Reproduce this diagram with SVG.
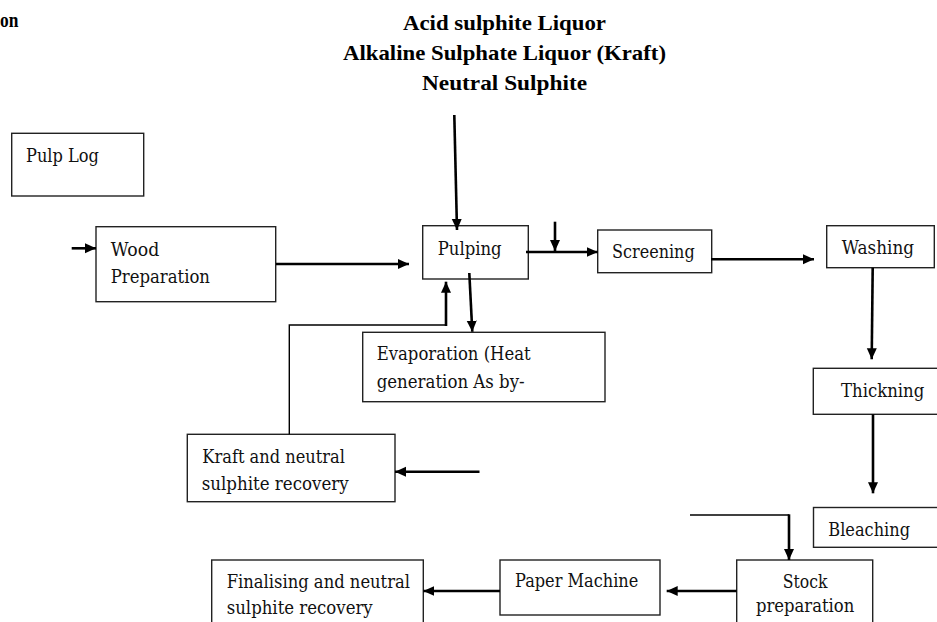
<svg xmlns="http://www.w3.org/2000/svg" width="937" height="622" viewBox="0 0 937 622">
<defs>
<marker id="ah" markerUnits="userSpaceOnUse" markerWidth="12" markerHeight="11" refX="11" refY="5" orient="auto">
<path d="M0,0 L11,5 L0,10 z" fill="#000"/>
</marker>
<style>
.box{fill:#fff;stroke:#222;stroke-width:1.4}
.t{font-family:"DejaVu Serif","Liberation Serif",serif;font-size:19px;fill:#111}
.h{font-family:"Liberation Serif","Times New Roman",serif;font-size:22px;font-weight:bold;fill:#000}
.a{fill:none;stroke:#000;stroke-width:2.6;marker-end:url(#ah)}
.l{fill:none;stroke:#000;stroke-width:1.4}
</style>
</defs>
<rect width="937" height="622" fill="#fff"/>
<g id="header">
<text class="h" x="0" y="27" textLength="18.4" lengthAdjust="spacingAndGlyphs">on</text>
<text class="h" x="403" y="30" textLength="203" lengthAdjust="spacingAndGlyphs">Acid sulphite Liquor</text>
<text class="h" x="343" y="60" textLength="323" lengthAdjust="spacingAndGlyphs">Alkaline Sulphate Liquor (Kraft)</text>
<text class="h" x="422" y="90" textLength="165" lengthAdjust="spacingAndGlyphs">Neutral Sulphite</text>
</g>
<g id="pulp-log">
<rect class="box" x="11.7" y="133.3" width="132" height="62.7"/>
<text class="t" x="26" y="161.7" textLength="73" lengthAdjust="spacingAndGlyphs">Pulp Log</text>
</g>
<g id="wood-preparation">
<rect class="box" x="96" y="226.7" width="179.7" height="75"/>
<text class="t" x="110.7" y="255.7" textLength="48.6" lengthAdjust="spacingAndGlyphs">Wood</text>
<text class="t" x="110.7" y="282.7" textLength="99.3" lengthAdjust="spacingAndGlyphs">Preparation</text>
</g>
<g id="pulping">
<rect class="box" x="422.7" y="225.7" width="105.6" height="53.3"/>
<text class="t" x="437.7" y="255" textLength="64" lengthAdjust="spacingAndGlyphs">Pulping</text>
</g>
<g id="screening">
<rect class="box" x="597.7" y="230" width="114" height="42.7"/>
<text class="t" x="612" y="257.7" textLength="82.7" lengthAdjust="spacingAndGlyphs">Screening</text>
</g>
<g id="washing">
<rect class="box" x="826.7" y="225.7" width="107.6" height="42"/>
<text class="t" x="841.7" y="254" textLength="72.3" lengthAdjust="spacingAndGlyphs">Washing</text>
</g>
<g id="thickning">
<rect class="box" x="813.3" y="368.3" width="130" height="46"/>
<text class="t" x="841" y="396.7" textLength="83.3" lengthAdjust="spacingAndGlyphs">Thickning</text>
</g>
<g id="evaporation">
<rect class="box" x="362.7" y="332.3" width="242.3" height="69.4"/>
<text class="t" x="376.7" y="360" textLength="154" lengthAdjust="spacingAndGlyphs">Evaporation (Heat</text>
<text class="t" x="376.7" y="388.3" textLength="148" lengthAdjust="spacingAndGlyphs">generation As by-</text>
</g>
<g id="kraft-recovery">
<rect class="box" x="187.3" y="434.3" width="207.7" height="67.4"/>
<text class="t" x="202.3" y="462.7" textLength="142.7" lengthAdjust="spacingAndGlyphs">Kraft and neutral</text>
<text class="t" x="201.7" y="490" textLength="147" lengthAdjust="spacingAndGlyphs">sulphite recovery</text>
</g>
<g id="bleaching">
<rect class="box" x="813.5" y="507.5" width="130" height="39.8"/>
<text class="t" x="828.3" y="536" textLength="81.7" lengthAdjust="spacingAndGlyphs">Bleaching</text>
</g>
<g id="stock-preparation">
<rect class="box" x="736.7" y="560" width="136" height="70"/>
<text class="t" x="782.7" y="587.7" textLength="44.7" lengthAdjust="spacingAndGlyphs">Stock</text>
<text class="t" x="756" y="612" textLength="98.3" lengthAdjust="spacingAndGlyphs">preparation</text>
</g>
<g id="paper-machine">
<rect class="box" x="500" y="560" width="160" height="55"/>
<text class="t" x="515" y="586.7" textLength="123.3" lengthAdjust="spacingAndGlyphs">Paper Machine</text>
</g>
<g id="finalising">
<rect class="box" x="211.7" y="560" width="211.6" height="70"/>
<text class="t" x="226.7" y="588" textLength="183.3" lengthAdjust="spacingAndGlyphs">Finalising and neutral</text>
<text class="t" x="226.7" y="614" textLength="146" lengthAdjust="spacingAndGlyphs">sulphite recovery</text>
</g>
<g id="connectors">
<line class="a" x1="71.7" y1="248.3" x2="96" y2="248.3"/>
<line class="a" x1="276" y1="264" x2="409" y2="264"/>
<line class="a" x1="454.3" y1="115" x2="457" y2="230"/>
<line class="a" x1="526" y1="252" x2="597.7" y2="252"/>
<line class="a" x1="555" y1="221.7" x2="555" y2="251"/>
<line class="a" x1="711" y1="259.3" x2="814" y2="259.3"/>
<line class="a" x1="872.7" y1="267.7" x2="871.7" y2="359.3"/>
<line class="a" x1="873" y1="414.3" x2="873" y2="493.3"/>
<line class="a" x1="469.3" y1="273" x2="472.3" y2="331.7"/>
<polyline class="l" points="289.3,434.3 289.3,325 446,325"/>
<line class="a" x1="446" y1="326" x2="446" y2="281.7"/>
<line class="a" x1="479.5" y1="471.7" x2="395" y2="471.7"/>
<polyline class="l" points="690,515 789,515"/>
<line class="a" x1="789" y1="514.3" x2="789" y2="560"/>
<line class="a" x1="736.7" y1="591" x2="666.7" y2="591"/>
<line class="a" x1="500" y1="591" x2="423.3" y2="591"/>
</g>
</svg>
